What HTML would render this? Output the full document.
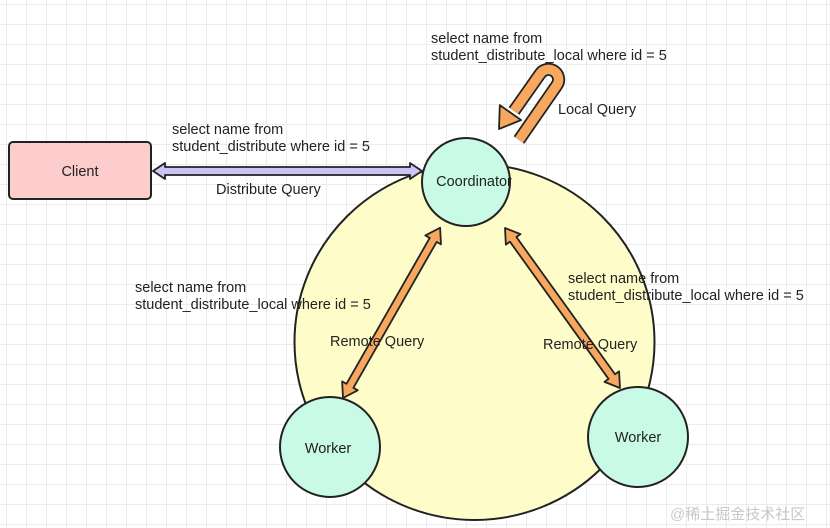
<!DOCTYPE html>
<html><head><meta charset="utf-8"><style>
html,body{margin:0;padding:0;}
body{width:830px;height:528px;overflow:hidden;background:#fff;
background-image:linear-gradient(#ececec 1px,transparent 1px),linear-gradient(90deg,#ececec 1px,transparent 1px);
background-size:20px 20px;background-position:6px 4px;}
svg{position:absolute;left:0;top:0;}
text{font-family:"Liberation Sans",sans-serif;font-size:14.5px;fill:#222;}
</style></head><body>
<svg width="830" height="528" viewBox="0 0 830 528">
<ellipse cx="474.5" cy="342" rx="180" ry="178" fill="#fefcc8" stroke="#222" stroke-width="2"/>
<rect x="9" y="142" width="142" height="57" rx="4" fill="#fdcccc" stroke="#222" stroke-width="2"/>
<text x="80" y="176" text-anchor="middle">Client</text>
<g transform="translate(153,171)">
<polygon points="0,0 12,-8 12,-4 257,-4 257,-8 269,0 257,8 257,4 12,4 12,8" fill="#c9c5f5" stroke="#222" stroke-width="1.8" stroke-linejoin="round"/>
</g>
<g transform="translate(343,398) rotate(-60.3)">
<polygon points="0,0 14,-9 14,-4 182,-4 182,-9 196,0 182,9 182,4 14,4 14,9" fill="#f8a85e" stroke="#222" stroke-width="1.8" stroke-linejoin="round"/>
</g>
<g transform="translate(505,228) rotate(54.3)">
<polygon points="0,0 14,-9 14,-4 183,-4 183,-9 197,0 183,9 183,4 14,4 14,9" fill="#f8a85e" stroke="#222" stroke-width="1.8" stroke-linejoin="round"/>
</g>
<path d="M519,140 L557,85 A10,10 0 0 0 540,74 L514,111" fill="none" stroke="#222" stroke-width="13" stroke-linejoin="round"/>
<path d="M519,140 L557,85 A10,10 0 0 0 540,74 L514,111" fill="none" stroke="#f8a85e" stroke-width="9.5" stroke-linejoin="round"/>
<g transform="translate(499,129) rotate(125)">
<polygon points="0,0 -20,-13 -20,13" fill="#f8a85e" stroke="#222" stroke-width="1.8" stroke-linejoin="round"/>
</g>
<circle cx="466" cy="182" r="44" fill="#c9fae6" stroke="#222" stroke-width="2"/>
<text x="474" y="186" text-anchor="middle">Coordinator</text>
<circle cx="330" cy="447" r="50" fill="#c9fae6" stroke="#222" stroke-width="2"/>
<text x="328" y="453" text-anchor="middle">Worker</text>
<circle cx="638" cy="437" r="50" fill="#c9fae6" stroke="#222" stroke-width="2"/>
<text x="638" y="442" text-anchor="middle">Worker</text>
<text x="431" y="43">select name from</text>
<text x="431" y="60">student_distribute_local where id = 5</text>
<text x="558" y="114">Local Query</text>
<text x="172" y="134">select name from</text>
<text x="172" y="151">student_distribute where id = 5</text>
<text x="216" y="194">Distribute Query</text>
<text x="135" y="292">select name from</text>
<text x="135" y="309">student_distribute_local where id = 5</text>
<text x="568" y="283">select name from</text>
<text x="568" y="300">student_distribute_local where id = 5</text>
<text x="330" y="346">Remote Query</text>
<text x="543" y="349">Remote Query</text>
<text x="670" y="519" style="font-family:'Liberation Sans','Noto Sans CJK SC',sans-serif;font-size:15px;fill:#c8c8c8">@稀土掘金技术社区</text>
</svg>
</body></html>
